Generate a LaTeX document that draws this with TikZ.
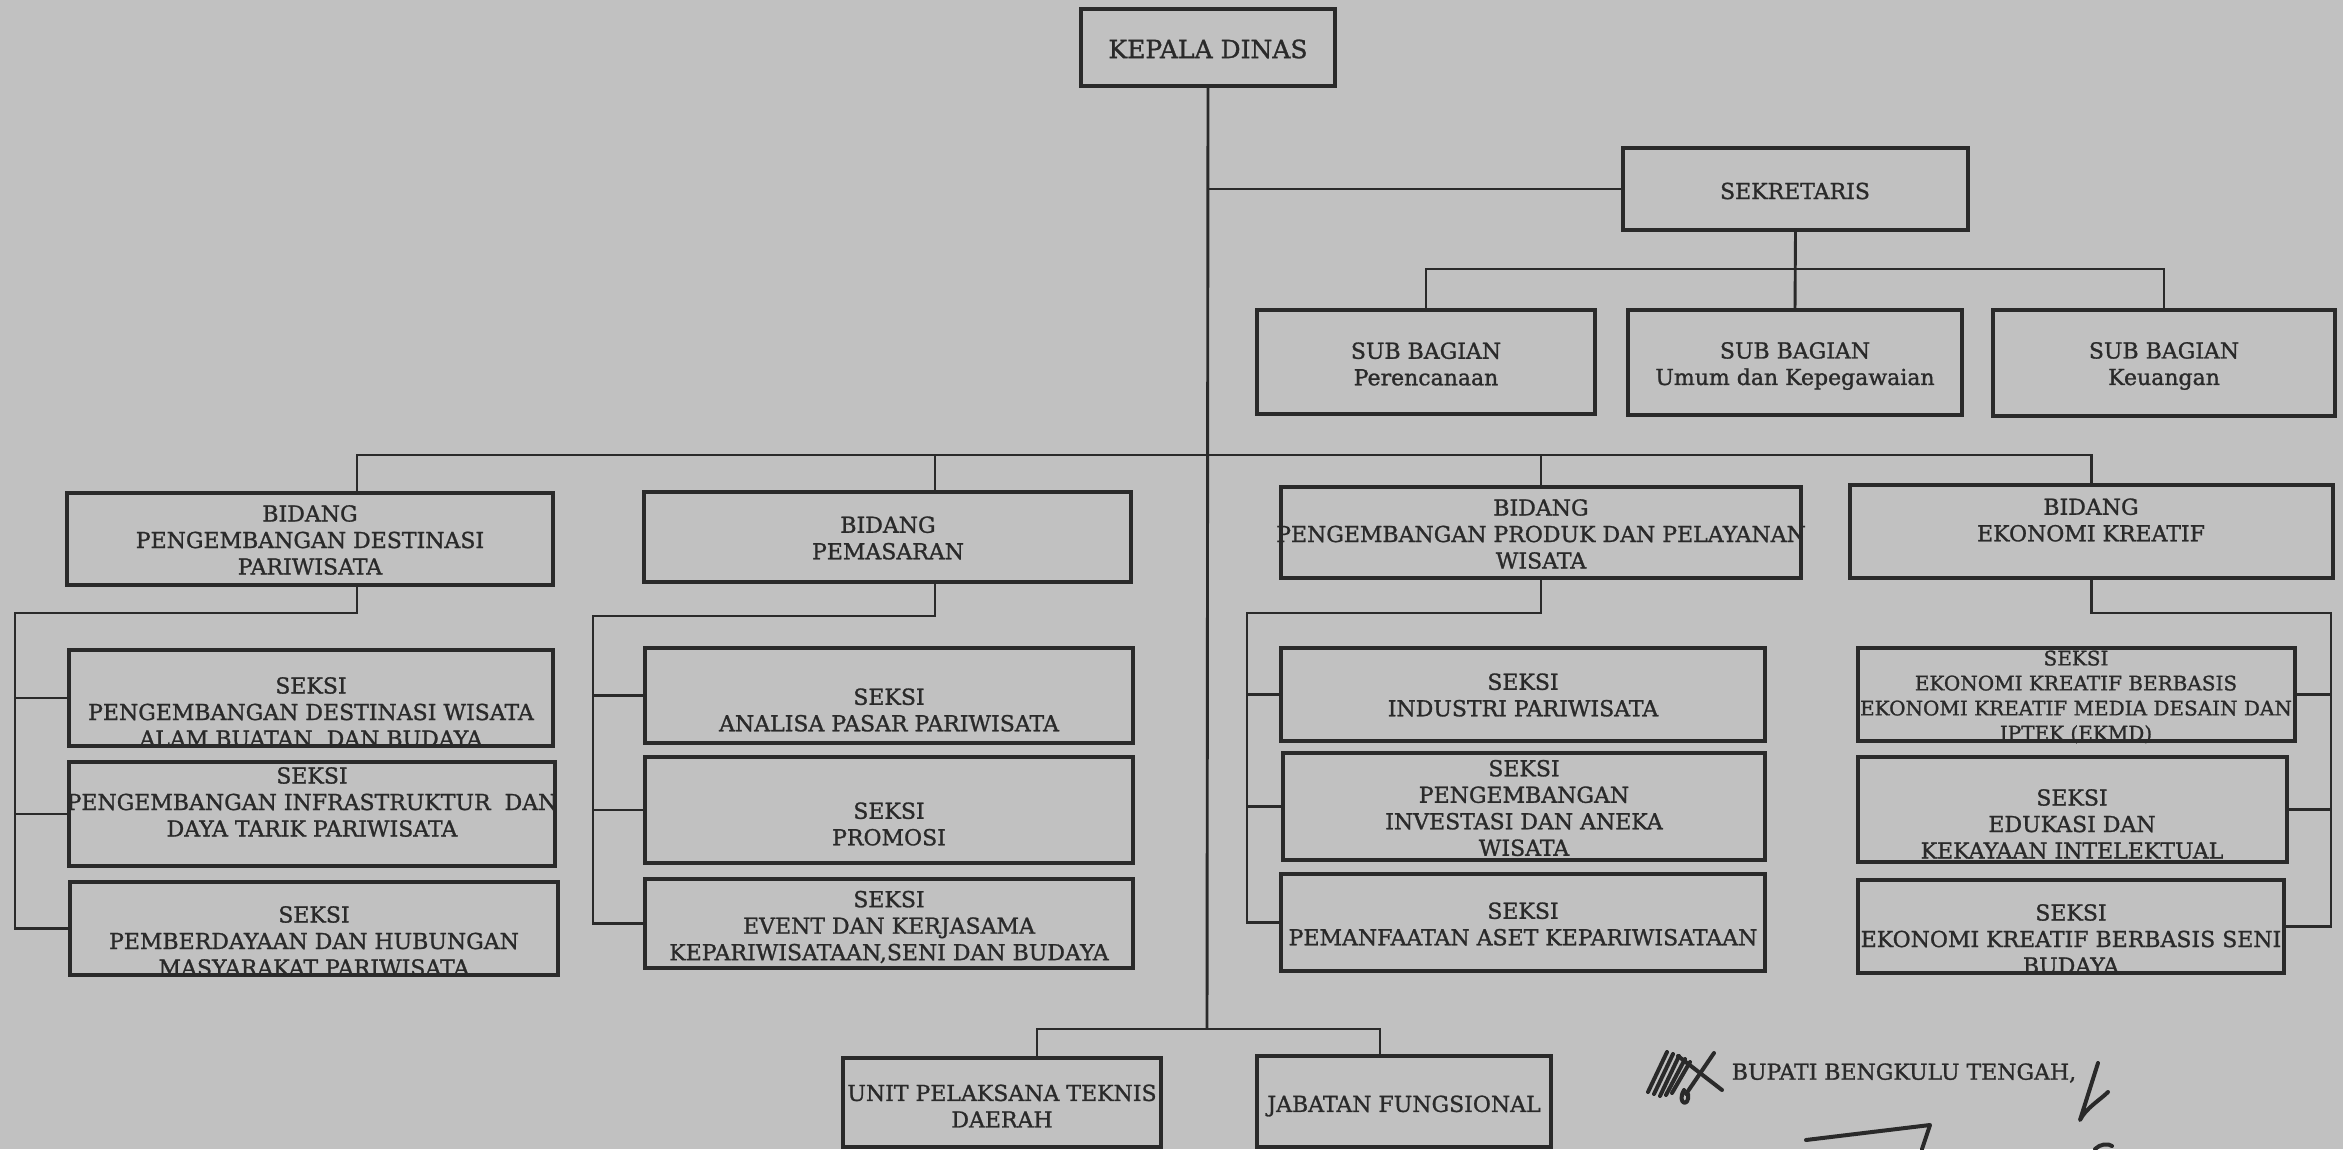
\documentclass[tikz,border=0pt]{standalone}
\usepackage{fontspec}
\setmainfont{DejaVu Serif}[FakeBold=1.2]
\definecolor{paper}{HTML}{C1C1C1}
\definecolor{ink}{HTML}{2A2A2A}

% box given by its corners (x1,y1)-(x2,y2), in pixel-like units
\newcommand{\orgbox}[5]{%
  \pgfmathsetmacro{\bw}{#4-#2}%
  \pgfmathsetmacro{\bh}{#5-#3}%
  \node[unitbox, minimum width=\bw pt, minimum height=\bh pt] (#1) at ({(#2+#4)/2},{(#3+#5)/2}) {};}
% centred text block
\newcommand{\orgtext}[5][]{\node[lbl,#1] (#2) at (#3,#4) {#5};}

\begin{document}
\begin{tikzpicture}[x=1pt, y=-1pt,
  unitbox/.style={draw=ink, line width=3.1pt, inner sep=0pt, outer sep=0pt},
  lbl/.style={text=ink, align=center, inner sep=0pt,
              font=\fontsize{22}{26.5}\selectfont},
  small/.style={font=\fontsize{20}{25}\selectfont},
  big/.style={font=\fontsize{25}{30}\selectfont},
  link/.style={draw=ink, line width=2.9pt},
  pen/.style={draw=ink, line width=4pt, line cap=round, line join=round}]

% page
\fill[paper] (0,0) rectangle (2343,1149);
\useasboundingbox (0,0) rectangle (2343,1149);

% ---------- boxes ----------
\orgbox{kd}{1081}{9}{1335}{86}
\orgbox{sek}{1623}{148}{1968}{230}
\orgbox{sb1}{1257}{310}{1595}{414}
\orgbox{sb2}{1628}{310}{1962}{415}
\orgbox{sb3}{1993}{310}{2335}{416}

\orgbox{b1}{67}{493}{553}{585}
\orgbox{b2}{644}{492}{1131}{582}
\orgbox{b3}{1281}{487}{1801}{578}
\orgbox{b4}{1850}{485}{2333}{578}

\orgbox{s11}{69}{650}{553}{746}
\orgbox{s12}{69}{762}{555}{866}
\orgbox{s13}{70}{882}{558}{975}

\orgbox{s21}{645}{648}{1133}{743}
\orgbox{s22}{645}{757}{1133}{863}
\orgbox{s23}{645}{879}{1133}{968}

\orgbox{s31}{1281}{648}{1765}{741}
\orgbox{s32}{1283}{753}{1765}{860}
\orgbox{s33}{1281}{874}{1765}{971}

\orgbox{s41}{1858}{648}{2295}{741}
\orgbox{s42}{1858}{757}{2287}{862}
\orgbox{s43}{1858}{880}{2284}{973}

\orgbox{uptd}{843}{1058}{1161}{1147}
\orgbox{jf}{1257}{1056}{1551}{1147}

% ---------- texts ----------
\orgtext[big]{tkd}{1208}{49}{KEPALA DINAS}
\orgtext{tsek}{1795}{191}{SEKRETARIS}
\orgtext{tsb1}{1426}{364}{SUB BAGIAN\\Perencanaan}
\orgtext{tsb2}{1795}{366}{SUB BAGIAN\\Umum dan Kepegawaian}
\orgtext{tsb3}{2164}{366}{SUB BAGIAN\\Keuangan}

\orgtext{tb1}{310}{540}{BIDANG\\PENGEMBANGAN DESTINASI\\PARIWISATA}
\orgtext{tb2}{888}{538}{BIDANG\\PEMASARAN}
\orgtext{tb3}{1541}{534}{BIDANG\\PENGEMBANGAN PRODUK DAN PELAYANAN\\WISATA}
\orgtext{tb4}{2091}{520}{BIDANG\\EKONOMI KREATIF}

\orgtext{ts11}{311}{712}{SEKSI\\PENGEMBANGAN DESTINASI WISATA\\ALAM BUATAN~ DAN BUDAYA}
\orgtext{ts12}{312}{802}{SEKSI\\PENGEMBANGAN INFRASTRUKTUR~ DAN\\DAYA TARIK PARIWISATA}
\orgtext{ts13}{314}{941}{SEKSI\\PEMBERDAYAAN DAN HUBUNGAN\\MASYARAKAT PARIWISATA}

\orgtext{ts21}{889}{710}{SEKSI\\ANALISA PASAR PARIWISATA}
\orgtext{ts22}{889}{824}{SEKSI\\PROMOSI}
\orgtext{ts23}{889}{927}{SEKSI\\EVENT DAN KERJASAMA\\KEPARIWISATAAN,SENI DAN BUDAYA}

\orgtext{ts31}{1523}{695}{SEKSI\\INDUSTRI PARIWISATA}
\orgtext{ts32}{1524}{808}{SEKSI\\PENGEMBANGAN\\INVESTASI DAN ANEKA\\WISATA}
\orgtext{ts33}{1523}{924}{SEKSI\\PEMANFAATAN ASET KEPARIWISATAAN}

\orgtext[small]{ts41}{2076}{697}{SEKSI\\EKONOMI KREATIF BERBASIS\\EKONOMI KREATIF MEDIA DESAIN DAN\\IPTEK (EKMD)}
\orgtext{ts42}{2072}{824}{SEKSI\\EDUKASI DAN\\KEKAYAAN INTELEKTUAL}
\orgtext{ts43}{2071}{939}{SEKSI\\EKONOMI KREATIF BERBASIS SENI\\BUDAYA}

\orgtext{tuptd}{1002}{1106}{UNIT PELAKSANA TEKNIS\\DAERAH}
\orgtext{tjf}{1404}{1106}{JABATAN FUNGSIONAL}
\orgtext{tbup}{1904}{1073}{BUPATI BENGKULU TENGAH,}

% ---------- junction points ----------
\coordinate (bbar) at (1207,455);
\coordinate (sbar) at (1795,269);
\coordinate (tbar) at (1207,1029);
\coordinate (sp1) at (15,613);
\coordinate (sp2) at (593,616);
\coordinate (sp3) at (1247,613);
\coordinate (sp4) at (2331,613);

% ---------- connectors ----------
% main trunk and secretary branch
\draw[link] (kd.south) -- (tbar);
\draw[link] (kd.south |- sek.west) -- (sek.west);
\draw[link] (sek.south) -- (sb2.north);
\draw[link] (sb1.north) -- (sb1.north |- sbar) -- (sb3.north |- sbar) -- (sb3.north);

% division bar
\draw[link] (b1.north -| 357,0) -- (357,0 |- bbar) -- (b4.north |- bbar) -- (b4.north);
\draw[link] (b2.north -| 935,0) -- (935,0 |- bbar);
\draw[link] (b3.north) -- (b3.north |- bbar);

% sections under each division
\draw[link] (b1.south -| 357,0) |- (sp1) |- (s13.west);
\draw[link] (sp1 |- s11.west) -- (s11.west);
\draw[link] (sp1 |- s12.west) -- (s12.west);

\draw[link] (b2.south -| 935,0) |- (sp2) |- (s23.west);
\draw[link] (sp2 |- s21.west) -- (s21.west);
\draw[link] (sp2 |- s22.west) -- (s22.west);

\draw[link] (b3.south) |- (sp3) |- (s33.west);
\draw[link] (sp3 |- s31.west) -- (s31.west);
\draw[link] (sp3 |- s32.west) -- (s32.west);

\draw[link] (b4.south) |- (sp4) |- (s43.east);
\draw[link] (sp4 |- s41.east) -- (s41.east);
\draw[link] (sp4 |- s42.east) -- (s42.east);

% technical unit and functional posts
\draw[link] (uptd.north -| 1037,0) |- (tbar) -| (jf.north -| 1380,0);

% ---------- initials and signature ----------
\draw[pen] (1648,1092) -- (1667,1052);
\draw[pen] (1654,1094) -- (1673,1054);
\draw[pen] (1660,1096) -- (1679,1056);
\draw[pen] (1666,1095) -- (1685,1059);
\draw[pen] (1672,1093) -- (1690,1062);
\draw[pen] (1678,1056) -- (1722,1090);
\draw[pen] (1714,1053) -- (1686,1094);
\draw[pen] (1684,1090) .. controls (1676,1104) and (1690,1108) .. (1688,1094);
\draw[pen] (2098,1063) -- (2080,1120) .. controls (2086,1108) and (2100,1100) .. (2108,1092);
\draw[pen] (1806,1140) -- (1930,1125) -- (1922,1149);
\draw[pen] (2095,1149) .. controls (2100,1144) and (2108,1143) .. (2112,1146);
\end{tikzpicture}
\end{document}
